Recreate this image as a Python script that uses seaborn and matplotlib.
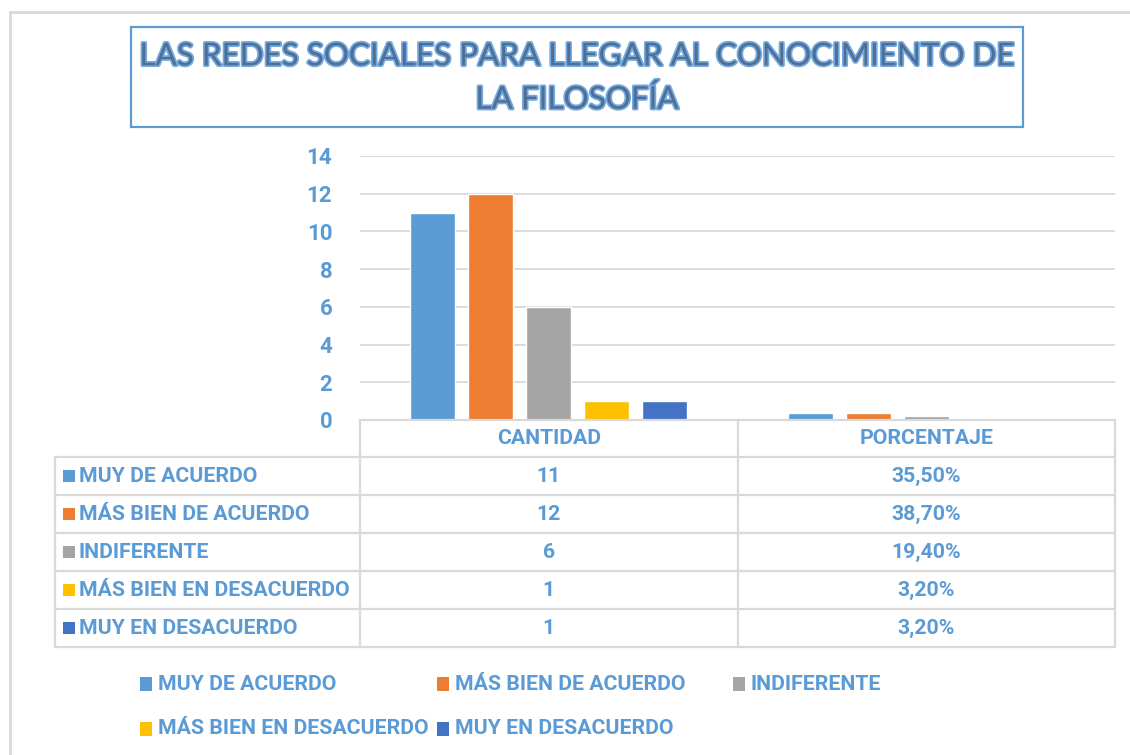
import pandas as pd
import seaborn as sns
import matplotlib.pyplot as plt
import matplotlib.patheffects as pe
from matplotlib.patches import Rectangle
from matplotlib.lines import Line2D
from matplotlib.transforms import blended_transform_factory

# Datos del grafico
categorias = ['CANTIDAD', 'PORCENTAJE']
respuestas = ['MUY DE ACUERDO', 'MÁS BIEN DE ACUERDO', 'INDIFERENTE',
              'MÁS BIEN EN DESACUERDO', 'MUY EN DESACUERDO']
cantidad = [11, 12, 6, 1, 1]
porcentaje = [0.355, 0.387, 0.194, 0.032, 0.032]
colores = ['#5B9BD5', '#ED7D31', '#A5A5A5', '#FFC000', '#4472C4']
titulo = 'LAS REDES SOCIALES PARA LLEGAR AL CONOCIMIENTO DE\nLA FILOSOFÍA'

AZUL = '#5B9BD5'
GRIS = '#D9D9D9'
W, H = 1130, 755

def fx(px):
    return px / W

def fy(py):
    return 1 - py / H

# Tabla larga para seaborn
filas = []
for r, c, p in zip(respuestas, cantidad, porcentaje):
    filas.append({'categoria': categorias[0], 'respuesta': r, 'valor': c})
    filas.append({'categoria': categorias[1], 'respuesta': r, 'valor': p})
df = pd.DataFrame(filas)

sns.set_theme(style='white')
plt.rcParams['font.family'] = ['Roboto', 'DejaVu Sans']

fig = plt.figure(figsize=(W / 100, H / 100), dpi=100)
fig.patch.set_facecolor('white')

# borde exterior del grafico
fig.add_artist(Rectangle((fx(10), fy(H + 20)), fx(W + 20) - fx(10), fy(12) - fy(H + 20),
                         transform=fig.transFigure, fill=False, edgecolor=GRIS, lw=2))

# cuadro del titulo
fig.add_artist(Rectangle((fx(131), fy(127)), fx(1023) - fx(131), fy(27) - fy(127),
                         transform=fig.transFigure, fill=False, edgecolor=AZUL, lw=1.6))
fig.text(fx(577), fy(78), titulo, ha='center', va='center', fontsize=22.6,
         family=['Lato', 'DejaVu Sans'], color='#4E6E96', linespacing=1.6,
         path_effects=[pe.withStroke(linewidth=2.5, foreground='#72A9DE')])

# area de barras
ax = fig.add_axes([fx(360), fy(420), fx(1115) - fx(360), fy(156) - fy(420)])
sns.barplot(data=df, x='categoria', y='valor', hue='respuesta', order=categorias,
            hue_order=respuestas, palette=colores, width=0.767, gap=0.224,
            saturation=1, legend=False, ax=ax)
ax.set_xlim(-0.5, 1.5)
ax.set_ylim(0, 14)
ax.set_yticks(range(0, 15, 2))
ax.yaxis.grid(True, color=GRIS, lw=1.3)
ax.set_axisbelow(True)
for s in ax.spines.values():
    s.set_visible(False)
ax.set_xticks([])
ax.set_xlabel('')
ax.set_ylabel('')
ax.tick_params(axis='y', length=0, pad=20, labelsize=16, labelcolor=AZUL)
for t in ax.get_yticklabels():
    t.set_fontweight('bold')

# tabla de datos
tr = blended_transform_factory(ax.transData, fig.transFigure)
filas_y = [420, 457, 495, 533, 571, 609, 647]
fig.add_artist(Line2D([fx(360), fx(1115)], [fy(420), fy(420)], transform=fig.transFigure,
                      color=GRIS, lw=1.6))
for py in filas_y[1:]:
    fig.add_artist(Line2D([fx(55), fx(1115)], [fy(py), fy(py)], transform=fig.transFigure,
                          color=GRIS, lw=1.6))
fig.add_artist(Line2D([fx(55), fx(55)], [fy(457), fy(647)], transform=fig.transFigure,
                      color=GRIS, lw=1.6))
for xd in [-0.5, 0.5, 1.5]:
    fig.add_artist(Line2D([xd, xd], [fy(420), fy(647)], transform=tr, color=GRIS, lw=1.6))

estilo = dict(color=AZUL, fontsize=15.3, fontweight='bold', va='center')
for i, cat in enumerate(categorias):
    ax.text(i, fy(438), cat, transform=tr, ha='center', **estilo)

for k, (r, c, p, col) in enumerate(zip(respuestas, cantidad, porcentaje, colores)):
    yc = (filas_y[k + 1] + filas_y[k + 2]) / 2
    fig.add_artist(Rectangle((fx(63), fy(yc + 6)), fx(12), fy(yc - 6) - fy(yc + 6),
                             transform=fig.transFigure, color=col, lw=0))
    fig.text(fx(79), fy(yc), r, ha='left', **estilo)
    ax.text(0, fy(yc), str(c), transform=tr, ha='center', **estilo)
    ax.text(1, fy(yc), f'{p * 100:.2f}%'.replace('.', ','), transform=tr, ha='center', **estilo)

# leyenda inferior
leyenda_pos = [(140, 684), (437, 684), (733, 684), (140, 729), (437, 729)]
for (px, py), r, col in zip(leyenda_pos, respuestas, colores):
    fig.add_artist(Rectangle((fx(px), fy(py + 7)), fx(12), fy(py - 7) - fy(py + 7),
                             transform=fig.transFigure, color=col, lw=0))
    fig.text(fx(px + 18), fy(py), r, ha='left', **estilo)

plt.savefig('out.png', dpi=100)
